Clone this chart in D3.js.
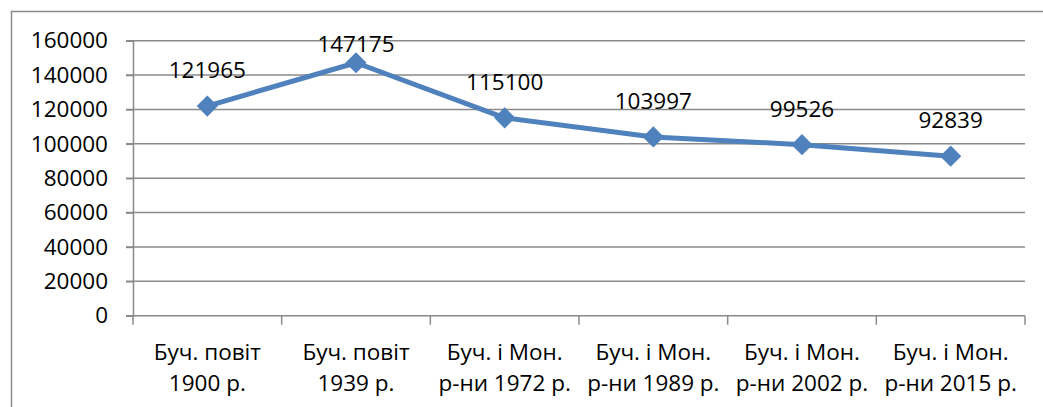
<!DOCTYPE html>
<html>
<head>
<meta charset="utf-8">
<script src="https://cdn.jsdelivr.net/npm/d3@7"></script>
<style>
  body { margin: 0; background: #fff; }
  svg { display: block; font-family: "Open Sans", sans-serif; }
</style>
</head>
<body>
<div id="chart"></div>
<script>
const categories = [
  ["Буч. повіт", "1900 р."],
  ["Буч. повіт", "1939 р."],
  ["Буч. і Мон.", "р-ни 1972 р."],
  ["Буч. і Мон.", "р-ни 1989 р."],
  ["Буч. і Мон.", "р-ни 2002 р."],
  ["Буч. і Мон.", "р-ни 2015 р."]
];
const population = [121965, 147175, 115100, 103997, 99526, 92839];
const yTicks = [0, 20000, 40000, 60000, 80000, 100000, 120000, 140000, 160000];

const width = 1043, height = 407;
const margin = { top: 40.7, right: 18, bottom: 91.3, left: 133 };
const fontSize = "22.5px";

const svg = d3.select("#chart")
  .append("svg")
  .attr("width", width)
  .attr("height", height);

// outer chart frame
svg.append("rect")
  .attr("x", 11.5)
  .attr("y", 11.5)
  .attr("width", 1040)
  .attr("height", 420)
  .attr("fill", "none")
  .attr("stroke", "#8c8c8c")
  .attr("stroke-width", 1.5);

const x = d3.scaleBand()
  .domain(d3.range(categories.length))
  .range([margin.left, width - margin.right]);

const y = d3.scaleLinear()
  .domain([0, 160000])
  .range([height - margin.bottom, margin.top]);

// gridlines
svg.append("g")
  .selectAll("line")
  .data(yTicks)
  .join("line")
  .attr("x1", margin.left - 7)
  .attr("x2", width - margin.right)
  .attr("y1", d => y(d))
  .attr("y2", d => y(d))
  .attr("stroke", "#8a8a8a")
  .attr("stroke-width", 1.5);

// y axis
const yAxis = svg.append("g")
  .attr("transform", `translate(${margin.left},0)`)
  .call(d3.axisLeft(y).tickValues(yTicks).tickSize(7).tickPadding(18).tickFormat(d3.format("d")));
yAxis.selectAll("path, line").attr("stroke", "#8a8a8a").attr("stroke-width", 1.5);
yAxis.selectAll("text")
  .attr("fill", "#000")
  .style("font-size", fontSize)
  .style("font-family", "'Open Sans', sans-serif");

// x axis
const xAxis = svg.append("g")
  .attr("transform", `translate(0,${y(0)})`);
xAxis.selectAll("line")
  .data(d3.range(categories.length + 1))
  .join("line")
  .attr("x1", i => margin.left + i * x.step())
  .attr("x2", i => margin.left + i * x.step())
  .attr("y1", 0)
  .attr("y2", 9)
  .attr("stroke", "#8a8a8a")
  .attr("stroke-width", 1.5);

xAxis.selectAll("text")
  .data(categories)
  .join("text")
  .attr("text-anchor", "middle")
  .attr("x", (d, i) => x(i) + x.bandwidth() / 2)
  .style("font-size", fontSize)
  .selectAll("tspan")
  .data(d => d)
  .join("tspan")
  .attr("x", function() { return this.parentNode.getAttribute("x"); })
  .attr("y", (d, i) => 44 + i * 31)
  .text(d => d);

const cx = i => x(i) + x.bandwidth() / 2;

// line
svg.append("path")
  .datum(population)
  .attr("fill", "none")
  .attr("stroke", "#4f81bd")
  .attr("stroke-width", 5)
  .attr("stroke-linejoin", "round")
  .attr("d", d3.line().x((d, i) => cx(i)).y(d => y(d)));

// diamond markers
svg.append("g")
  .selectAll("path")
  .data(population)
  .join("path")
  .attr("transform", (d, i) => `translate(${cx(i)},${y(d)}) rotate(45)`)
  .attr("d", "M-7.5,-7.5H7.5V7.5H-7.5Z")
  .attr("fill", "#4f81bd");

// data labels
svg.append("g")
  .selectAll("text")
  .data(population)
  .join("text")
  .attr("text-anchor", "middle")
  .attr("x", (d, i) => cx(i))
  .attr("y", d => Math.max(y(d) - 28, 52))
  .style("font-size", fontSize)
  .text(d => d);
</script>
</body>
</html>
